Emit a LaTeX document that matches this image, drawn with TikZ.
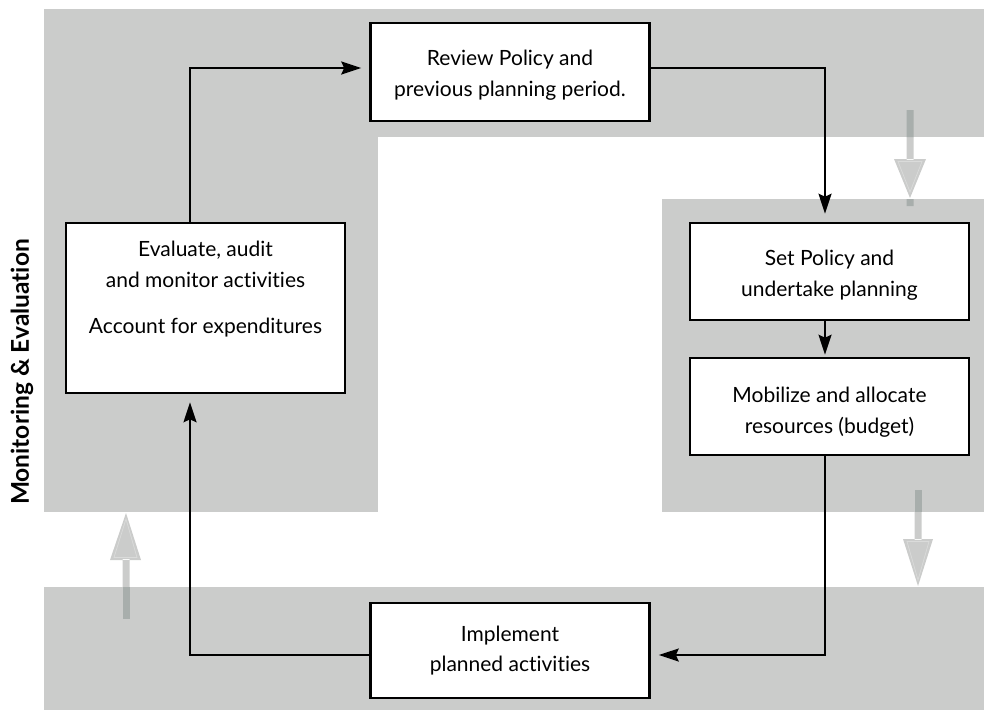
\documentclass[tikz,border=0pt]{standalone}
\usepackage{fontspec}
\setmainfont{Lato}[Ligatures={NoCommon}]
\usetikzlibrary{arrows.meta}
\definecolor{band}{RGB}{203,204,203}
\definecolor{banddark}{RGB}{168,174,172}
\definecolor{bandlight}{RGB}{218,219,218}
\begin{document}
\begin{tikzpicture}[x=1pt,y=-1pt,
  box/.style={draw=black, line width=2.6pt, fill=white, minimum width=279pt,
    align=center, font=\fontsize{21}{30.5}\selectfont, inner sep=0pt},
  conn/.style={line width=2pt, shorten >=8pt,
    -{Stealth[length=20pt,width=13pt,inset=3pt]}},
  lbl/.style={rotate=90, font=\bfseries\fontsize{24.5}{28}\selectfont},
  inner/.style={draw=bandlight, line width=0.7pt}]
\useasboundingbox (0,0) rectangle (984,710);
% bands
\fill[band] (44,9) rectangle (984,137);
\fill[band] (44,137) rectangle (378,512);
\fill[band] (662,199) rectangle (984,512);
\fill[band] (44,587) rectangle (984,710);
% gray arrows
\fill[band] (906.5,110) rectangle (913.5,160) (894,159) -- (926,159) -- (910,198) -- cycle;
\fill[banddark] (906.5,110) rectangle (913.5,137) (906.5,199) rectangle (913.5,206);
\draw[inner] (898,161.5) -- (922,161.5) -- (910,192) -- cycle;
\fill[band] (914.5,490) rectangle (921.5,540) (903,539) -- (933,539) -- (918,586) -- cycle;
\fill[banddark] (914.5,490) rectangle (921.5,512);
\draw[inner] (907,541.5) -- (929,541.5) -- (918,580) -- cycle;
\fill[band] (122.5,619) rectangle (129.5,559) (110,560) -- (141,560) -- (126,513) -- cycle;
\fill[banddark] (122.5,587) rectangle (129.5,619);
\draw[inner] (114,557.5) -- (137,557.5) -- (126,519) -- cycle;
% boxes
\node[box, minimum height=98pt] (review) at (510,72) {\rule{0pt}{22pt}Review Policy and\\previous planning period.};
\node[box, minimum height=97pt] (set) at (829.5,271.5) {\rule{0pt}{23pt}Set Policy and\\undertake planning};
\node[box, minimum height=97pt] (mob) at (829.5,406.5) {\rule{0pt}{27pt}Mobilize and allocate\\resources (budget)};
\node[box, minimum height=170pt] (eval) at (205.5,308) {Evaluate, audit\\and monitor activities\\[16pt]Account for expenditures\\[10pt]\mbox{}};
\node[box, minimum height=95pt] (impl) at (510,650.5) {Implement\\planned activities};
\node[lbl] (label) at (22,372) {Monitoring \& Evaluation};
% connectors
\draw[conn] ([yshift=4pt]review.east) -| ([xshift=-4.5pt]set.north);
\draw[conn, shorten >=2pt] ([xshift=-4.5pt]set.south) -- ([xshift=-4.5pt]mob.north);
\draw[conn] ([xshift=-4.5pt]mob.south) |- ([yshift=-4.5pt]impl.east);
\draw[conn] ([yshift=-4.5pt]impl.west) -| ([xshift=-15.5pt]eval.south);
\draw[conn] ([xshift=-15.5pt]eval.north) |- ([yshift=4pt]review.west);
\end{tikzpicture}
\end{document}
